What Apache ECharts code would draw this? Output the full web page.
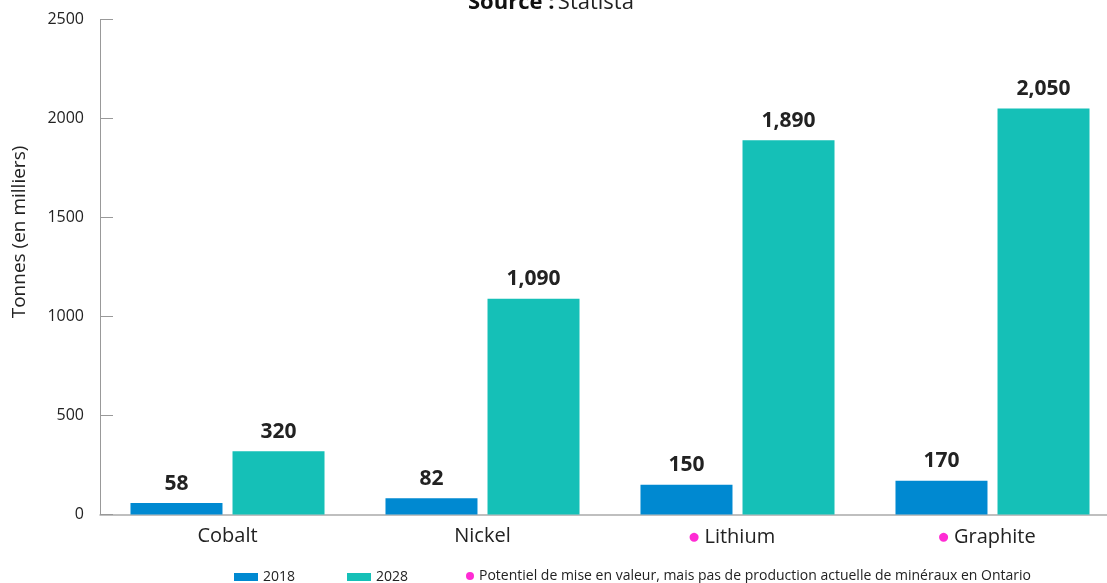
<!DOCTYPE html>
<html><head><meta charset="utf-8">
<script src="https://cdn.jsdelivr.net/npm/echarts@6/dist/echarts.min.js"></script>
<style>html,body{margin:0;padding:0;background:#fff}#c{width:1107px;height:583px}</style>
</head><body><div id="c"></div>
<script>
const categories = ['Cobalt', 'Nickel', 'Lithium', 'Graphite'];
const potentialFlags = [false, false, true, true];
const values2018 = [58, 82, 150, 170];
const values2028 = [320, 1090, 1890, 2050];
const seriesNames = ['2018', '2028'];
const yTicks = [0, 500, 1000, 1500, 2000, 2500];
const noteText = 'Potentiel de mise en valeur, mais pas de production actuelle de minéraux en Ontario';

const FONT = '"Open Sans", sans-serif';
const chart = echarts.init(document.getElementById('c'), null, {renderer: 'canvas'});
const labelStyle = {
  show: true, position: 'top', distance: 9,
  fontFamily: FONT, fontWeight: 'bold', fontSize: 21, color: '#222',
  formatter: p => p.value.toLocaleString('en-US')
};
chart.setOption({
  animation: false,
  textStyle: {fontFamily: FONT},
  grid: {left: 100, width: 1020, top: 19.5, height: 495, containLabel: false, outerBoundsMode: 'none'},
  legend: {
    data: seriesNames, left: 234, top: 569, padding: 0, icon: 'rect',
    itemWidth: 24, itemHeight: 8, itemGap: 52,
    textStyle: {fontFamily: FONT, fontSize: 14, color: '#222', lineHeight: 16}
  },
  xAxis: {
    type: 'category', data: categories,
    axisLine: {lineStyle: {color: '#aaa', width: 1.5}},
    axisTick: {inside: true, length: 13, lineStyle: {color: '#888', width: 1.5}},
    axisLabel: {
      interval: 0, hideOverlap: false,
      margin: 12, color: '#222', fontSize: 20, fontFamily: FONT,
      formatter: (v, i) => potentialFlags[i] ? '{dot|●}{n2|' + v + '}' : '{n|' + v + '}',
      rich: {
        dot: {color: '#ff2bd4', fontSize: 21, padding: [0, 4, 0, 0]},
        n: {color: '#222', fontSize: 20, fontFamily: FONT},
        n2: {color: '#222', fontSize: 20, fontFamily: FONT, padding: [0, 12, 0, 0]}
      }
    }
  },
  yAxis: {
    type: 'value', min: yTicks[0], max: yTicks[yTicks.length - 1], interval: 500,
    axisLine: {show: true, lineStyle: {color: '#999', width: 1}},
    axisTick: {show: true, inside: true, length: 13, lineStyle: {color: '#999'}},
    splitLine: {show: false},
    axisLabel: {margin: 16, color: '#222', fontSize: 16, fontFamily: FONT, formatter: v => String(v)}
  },
  series: [
    {name: seriesNames[0], type: 'bar', data: values2018, barWidth: 92, barGap: '10.9%',
     itemStyle: {color: '#0089d1'}, label: labelStyle},
    {name: seriesNames[1], type: 'bar', data: values2028, barWidth: 92,
     itemStyle: {color: '#15c0b7'}, label: labelStyle}
  ],
  graphic: [
    {type: 'text', left: 468, top: -8, style: {
      text: '{b|Source :} {r|Statista}', x: 0, y: 0,
      rich: {b: {fontWeight: 'bold', fontSize: 22, fontFamily: FONT, fill: '#111'},
             r: {fontSize: 22, fontFamily: FONT, fill: '#222'}}
    }},
    {type: 'text', x: 20, y: 232, rotation: Math.PI / 2, style: {
      text: 'Tonnes (en milliers)', fontSize: 19, fontFamily: FONT, fill: '#222',
      align: 'center', verticalAlign: 'middle'
    }},
    {type: 'circle', shape: {cx: 470, cy: 576, r: 4}, style: {fill: '#ff2bd4'}},
    {type: 'text', x: 479, y: 576, style: {
      text: noteText, fontSize: 14, fontFamily: FONT, fill: '#222', verticalAlign: 'middle'
    }}
  ]
});
</script></body></html>
